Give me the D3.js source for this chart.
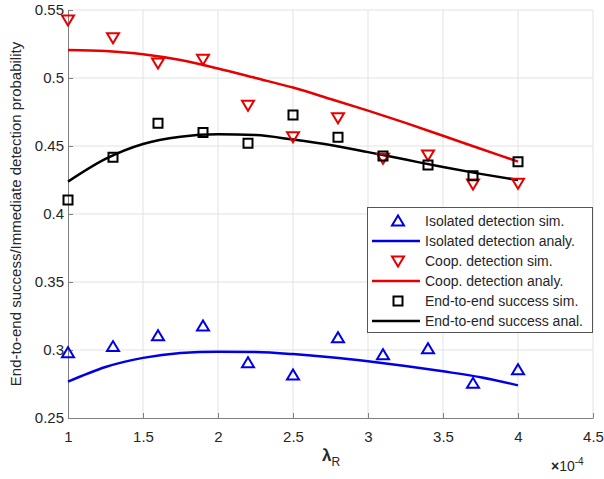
<!DOCTYPE html>
<html>
<head>
<meta charset="utf-8">
<script src="https://cdn.jsdelivr.net/npm/d3@7"></script>
<style>
  body { margin: 0; background: #fff; }
  text { font-family: "Liberation Sans", Arial, sans-serif; fill: #262626; }
</style>
</head>
<body>
<script>
var width = 604;
var height = 479;

// sim points
var simX = [1, 1.3, 1.6, 1.9, 2.2, 2.5, 2.8, 3.1, 3.4, 3.7, 4.0];
var isoSim = [0.298, 0.3025, 0.3105, 0.3176, 0.2907, 0.2816, 0.309, 0.2965, 0.301, 0.2755, 0.2855];
var coopSim = [0.5426, 0.5296, 0.511, 0.5137, 0.480, 0.4568, 0.4708, 0.441, 0.4434, 0.422, 0.4226];
var e2eSim = [0.4103, 0.4417, 0.4667, 0.460, 0.452, 0.4728, 0.4564, 0.4426, 0.436, 0.4282, 0.4385];

// analytic curves
var anaX = [1, 1.25, 1.5, 1.75, 2, 2.25, 2.5, 2.75, 3, 3.25, 3.5, 3.75, 4];
var isoAna = [0.2767, 0.2875, 0.2942, 0.2978, 0.2988, 0.2985, 0.2970, 0.2947, 0.2917, 0.2882, 0.2843, 0.2800, 0.2740];
var coopAna = [0.5206, 0.5198, 0.5175, 0.5132, 0.5070, 0.5000, 0.4930, 0.4846, 0.4760, 0.4670, 0.4575, 0.4480, 0.4385];
var e2eAna = [0.4238, 0.4405, 0.4515, 0.4568, 0.4586, 0.4580, 0.4547, 0.4507, 0.4455, 0.4400, 0.4345, 0.4295, 0.4250];

var xTicks = [1, 1.5, 2, 2.5, 3, 3.5, 4, 4.5];
var yTicks = [0.25, 0.3, 0.35, 0.4, 0.45, 0.5, 0.55];

var legendLabels = ["Isolated detection sim.", "Isolated detection analy.", "Coop. detection sim.",
  "Coop. detection analy.", "End-to-end success sim.", "End-to-end success anal."];

var blue = "#0000e6", red = "#e60000", black = "#000";

var m = {left: 68, right: 11, top: 10, bottom: 61};

var svg = d3.select("body").append("svg")
    .attr("width", width)
    .attr("height", height)

var x = d3.scaleLinear().domain([1, 4.5]).range([m.left, width - m.right]);
var y = d3.scaleLinear().domain([0.25, 0.55]).range([height - m.bottom, m.top]);

// grid
svg.append("g").selectAll("line").data(xTicks.slice(1)).enter().append("line")
  .attr("x1", function(d) { return x(d); }).attr("x2", function(d) { return x(d); })
  .attr("y1", y(0.25)).attr("y2", y(0.55))
  .attr("stroke", "#e3e3e3").attr("stroke-width", 1);
svg.append("g").selectAll("line").data(yTicks.slice(1)).enter().append("line")
  .attr("y1", function(d) { return y(d); }).attr("y2", function(d) { return y(d); })
  .attr("x1", x(1)).attr("x2", x(4.5))
  .attr("stroke", "#e3e3e3").attr("stroke-width", 1);

// axes
var xAxis = svg.append("g")
  .attr("transform", "translate(0," + y(0.25) + ")")
  .call(d3.axisBottom(x).tickValues(xTicks).tickFormat(d3.format("")).tickSizeInner(-5).tickSizeOuter(0).tickPadding(13));
var yAxis = svg.append("g")
  .attr("transform", "translate(" + x(1) + ",0)")
  .call(d3.axisLeft(y).tickValues(yTicks).tickFormat(d3.format("")).tickSizeInner(-5).tickSizeOuter(0).tickPadding(4));
[xAxis, yAxis].forEach(function(a) {
  a.select(".domain").attr("stroke", "#808080");
  a.selectAll(".tick line").attr("stroke", "#808080");
  a.selectAll(".tick text").style("font-size", "15px").attr("fill", "#262626");
});

// axis labels
svg.append("text")
  .attr("transform", "translate(21," + y(0.40) + ") rotate(-90)")
  .attr("text-anchor", "middle")
  .style("font-size", "15px")
  .text("End-to-end success/Immediate detection probability");

var xl = svg.append("text").attr("x", 322).attr("y", 461).style("font-size", "17px");
xl.append("tspan").text("λ").style("font-weight", "bold");
xl.append("tspan").text("R").attr("dy", 5).style("font-size", "12px");

var ex = svg.append("text").attr("x", 551).attr("y", 471).style("font-size", "14px");
ex.append("tspan").text("×").style("font-weight", "bold");
ex.append("tspan").text("10");
ex.append("tspan").text("-4").attr("dy", -6).style("font-size", "10px");

// curves
var line = d3.line()
  .x(function(d) { return x(d[0]); })
  .y(function(d) { return y(d[1]); })
  .curve(d3.curveMonotoneX);

function drawCurve(vals, color) {
  svg.append("path")
    .datum(d3.zip(anaX, vals))
    .attr("d", line)
    .attr("fill", "none")
    .attr("stroke", color)
    .attr("stroke-width", 2.5);
}
drawCurve(isoAna, blue);
drawCurve(coopAna, red);
drawCurve(e2eAna, black);

// markers
function triUp(cx, cy) { return "M" + (cx - 6) + "," + (cy + 4.5) + "L" + (cx + 6) + "," + (cy + 4.5) + "L" + cx + "," + (cy - 5.5) + "Z"; }
function triDown(cx, cy) { return "M" + (cx - 6) + "," + (cy - 4.5) + "L" + (cx + 6) + "," + (cy - 4.5) + "L" + cx + "," + (cy + 5.5) + "Z"; }

function drawMarkers(vals, shape, color) {
  svg.append("g").selectAll("path").data(d3.zip(simX, vals)).enter().append("path")
    .attr("d", function(d) {
      var cx = x(d[0]), cy = y(d[1]);
      if (shape == "up") return triUp(cx, cy);
      if (shape == "down") return triDown(cx, cy);
      return "M" + (cx - 4.5) + "," + (cy - 4.5) + "h9v9h-9Z";
    })
    .attr("fill", "none")
    .attr("stroke", color)
    .attr("stroke-width", 2);
}
drawMarkers(isoSim, "up", blue);
drawMarkers(coopSim, "down", red);
drawMarkers(e2eSim, "sq", black);

// legend
var lg = svg.append("g");
lg.append("rect").attr("x", 367.5).attr("y", 207.5).attr("width", 225).attr("height", 125)
  .attr("fill", "#fff").attr("stroke", "#555").attr("stroke-width", 1);
var kinds = [["up", blue], ["line", blue], ["down", red], ["line", red], ["sq", black], ["line", black]];
kinds.forEach(function(k, i) {
  var ly = 221 + i * 20;
  if (k[0] == "line") {
    lg.append("line").attr("x1", 372).attr("x2", 420).attr("y1", ly).attr("y2", ly)
      .attr("stroke", k[1]).attr("stroke-width", 2.5);
  } else {
    var p = k[0] == "up" ? triUp(398, ly) : k[0] == "down" ? triDown(398, ly) : "M393.5," + (ly - 4.5) + "h9v9h-9Z";
    lg.append("path").attr("d", p).attr("fill", "none").attr("stroke", k[1]).attr("stroke-width", 2);
  }
  lg.append("text").attr("x", 425).attr("y", ly + 5).style("font-size", "14px").text(legendLabels[i]);
});
</script>
</body>
</html>
